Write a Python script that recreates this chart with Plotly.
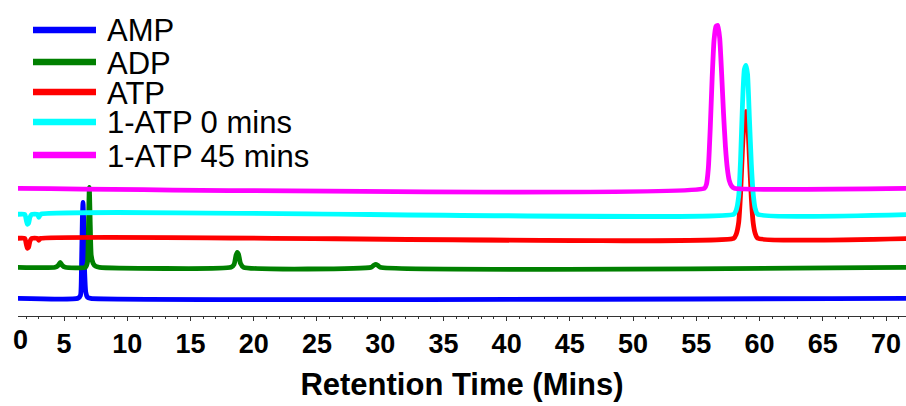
import plotly.graph_objects as go

# ---------------- data (retention time in min, detector response in arbitrary units) -------------
names = ["AMP", "ADP", "ATP", "1-ATP 0 mins", "1-ATP 45 mins"]
colors = ["#0000ff", "#008000", "#ff0000", "#00ffff", "#ff00ff"]
offsets = [17.7, 48.7, 77.7, 101.7, 127.7]   # vertical stacking offsets

amp_t = [1.3, 6.1, 6.3, 6.38, 6.45, 6.5, 6.55, 6.62, 6.72, 6.85, 7.1, 72.5]
amp_y = [0, 0, 3, 30, 80, 96, 80, 30, 6, 1, 0, 0]

adp_t = [1.3, 4.3, 4.55, 4.7, 4.85, 5.1, 6.7, 6.85, 6.93, 7.0, 7.07, 7.15, 7.3, 7.5, 7.8,
         18.2, 18.45, 18.6, 18.7, 18.8, 18.95, 19.2, 29.3, 29.5, 29.65, 29.8, 30.0, 72.5]
adp_y = [0, 0, 2, 5, 2, 0, 0, 5, 40, 80, 45, 12, 4, 1, 0,
         0, 3, 12, 15, 13, 4, 0, 0, 2, 3, 2, 0, 0]

atp_t = [1.3, 1.9, 2.0, 2.1, 2.2, 2.3, 2.45, 2.9, 3.0, 3.15, 57.95, 58.15, 58.35, 58.5, 58.65,
         58.8, 58.93, 59.05, 59.2, 59.35, 59.5, 59.65, 59.85, 72.5]
atp_y = [0, 0, -5, -10, -9, -3, 0, 0, -2, 0, 0, 4, 16, 45, 90,
         120, 127, 118, 80, 40, 15, 5, 0, 0]

atp0_t = [1.3, 1.9, 2.0, 2.1, 2.2, 2.3, 2.45, 2.9, 3.0, 3.15, 57.95, 58.15, 58.35, 58.5, 58.65,
          58.8, 58.93, 59.05, 59.2, 59.35, 59.5, 59.65, 59.85, 72.5]
atp0_y = [0, 0, -5, -10, -9, -3, 0, 0, -3, 0, 0, 4, 18, 55, 110,
          145, 149, 140, 95, 50, 20, 6, 0, 0]

atp45_t = [1.3, 55.65, 55.8, 55.95, 56.1, 56.25, 56.4, 56.55, 56.7, 56.85, 57.0, 57.15, 57.3,
           57.45, 57.6, 57.8, 58.0, 72.5]
atp45_y = [0, 0, 4, 20, 60, 110, 148, 162, 163, 150, 115, 75, 42,
           20, 8, 2, 0, 0]

series_t = [amp_t, adp_t, atp_t, atp0_t, atp45_t]
series_y = [amp_y, adp_y, atp_y, atp0_y, atp45_y]

x_ticks = list(range(5, 75, 5))
x_title = "Retention Time (Mins)"
x_range = [1.36, 71.58]
y_range = [0, 316]

# ---------------- figure ----------------
fig = go.Figure()
for name, col, off, t, y in zip(names, colors, offsets, series_t, series_y):
    fig.add_trace(go.Scatter(
        x=t, y=[v + off for v in y], mode="lines", name=name,
        line=dict(color=col, width=4.8, shape="spline", smoothing=0.5),
        showlegend=False, hoverinfo="x+name"))

FONT = "Liberation Sans, Arial, sans-serif"

# manual legend (rows are tighter than Plotly's legend allows)
leg_rows_px = [30, 62, 92, 122, 155]
plot_l, plot_w, plot_h = 18, 888, 316
for name, col, py in zip(names, colors, leg_rows_px):
    yp = (plot_h - py) / plot_h
    fig.add_shape(type="line", xref="paper", yref="paper",
                  x0=(33 - plot_l) / plot_w, x1=(96 - plot_l) / plot_w, y0=yp, y1=yp,
                  line=dict(color=col, width=6.5))
    fig.add_annotation(xref="paper", yref="paper", x=(105 - plot_l) / plot_w, y=yp - 1 / plot_h,
                       text=name, showarrow=False, xanchor="left", yanchor="middle",
                       font=dict(family=FONT, size=31, color="black"))

# the "0" label of the axis sits just inside the left edge
fig.add_annotation(xref="x", yref="paper", x=1.52, y=-(340 - plot_h) / plot_h,
                   text="0", showarrow=False, xanchor="center", yanchor="middle",
                   font=dict(family=FONT, size=27, color="black", weight="bold"))

fig.update_layout(
    width=906, height=406,
    margin=dict(l=18, r=0, t=0, b=90, autoexpand=False),
    paper_bgcolor="white", plot_bgcolor="white",
    showlegend=False,
    xaxis=dict(range=x_range, tickvals=x_ticks, ticks="outside", ticklen=4, tickwidth=1,
               tickcolor="#333", showline=True, linecolor="#333", linewidth=1,
               showgrid=False, zeroline=False, automargin=False,
               tickfont=dict(family=FONT, size=27, color="black", weight="bold"),
               minor=dict(dtick=1, tick0=0, ticks="outside", ticklen=2, tickcolor="#333"),
               title=dict(text=x_title, standoff=14,
                          font=dict(family=FONT, size=31, color="black", weight="bold"))),
    yaxis=dict(range=y_range, visible=False, fixedrange=True, automargin=False),
)

fig.write_html("out.html", config={"displayModeBar": False},
               post_script="document.body.style.margin='0';")
